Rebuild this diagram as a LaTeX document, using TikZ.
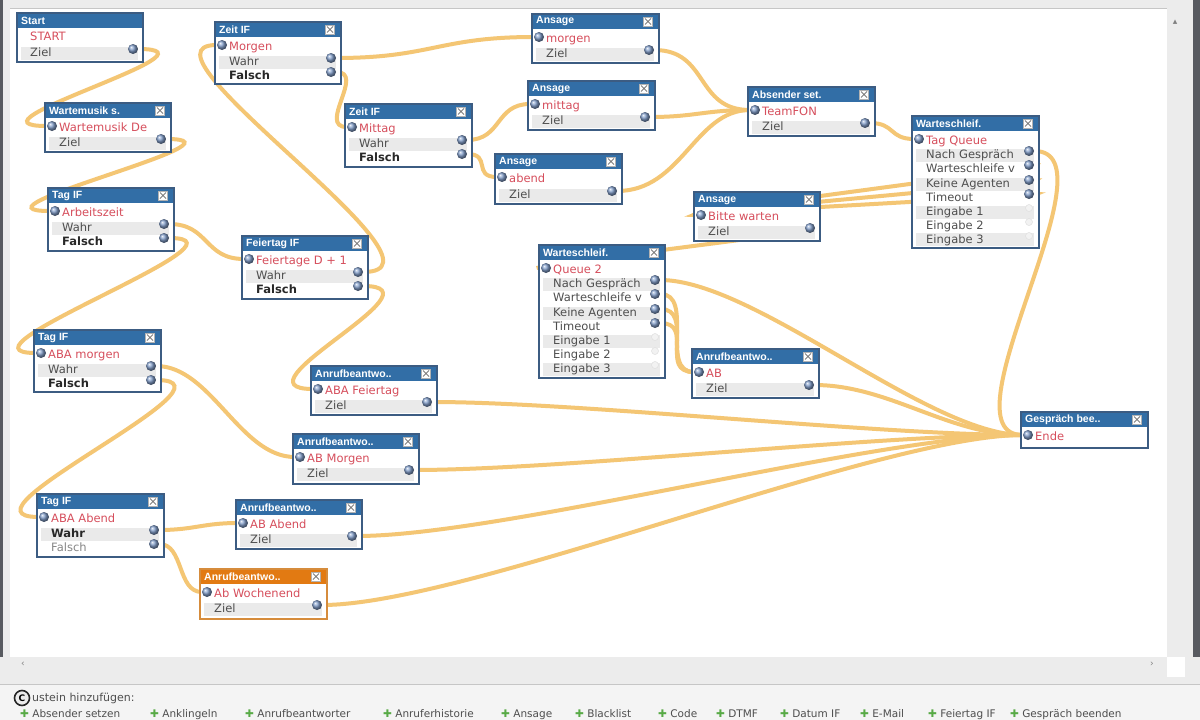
\documentclass[tikz,border=0pt]{standalone}
\usepackage{fontspec}
\setmainfont{DejaVu Sans}
\newfontfamily\hdfont{Liberation Sans}
\usetikzlibrary{calc}
\pgfdeclarelayer{bglayer}
\pgfdeclarelayer{wires}
\pgfsetlayers{bglayer,wires,main}
\definecolor{hdblue}{RGB}{50,110,166}
\definecolor{bdblue}{RGB}{60,92,130}
\definecolor{hdorange}{RGB}{226,122,18}
\definecolor{bdorange}{RGB}{214,140,60}
\definecolor{wirec}{RGB}{244,198,116}
\definecolor{rowg}{RGB}{234,234,234}
\definecolor{txtred}{RGB}{214,78,92}
\definecolor{txtg}{RGB}{78,78,78}
\definecolor{txtb}{RGB}{40,40,40}
\definecolor{txtl}{RGB}{135,135,135}
\definecolor{portc}{RGB}{128,156,200}
\definecolor{chrome}{RGB}{236,236,236}
\definecolor{chrometwo}{RGB}{244,244,244}
\definecolor{darkstrip}{RGB}{88,90,96}
\definecolor{plusg}{RGB}{88,170,70}
\tikzset{
 body/.style={rectangle, anchor=north west, fill=white, inner sep=0pt, line width=1.4pt},
 head/.style={rectangle, anchor=north west, inner sep=0pt, minimum height=15pt},
 hdtxt/.style={anchor=west, inner sep=0pt, text=white, font=\hdfont\bfseries\fontsize{10.5}{12}\selectfont},
 closebox/.style={rectangle, draw=gray!60, fill=white, minimum size=9pt, inner sep=0pt, line width=0.6pt,
   path picture={\draw[gray, line width=0.8pt]
     ([shift={(1.5pt,1.5pt)}]path picture bounding box.south west) -- ([shift={(-1.5pt,-1.5pt)}]path picture bounding box.north east)
     ([shift={(1.5pt,-1.5pt)}]path picture bounding box.north west) -- ([shift={(-1.5pt,1.5pt)}]path picture bounding box.south east);}},
 rowtxt/.style={anchor=west, inner sep=0pt, text=txtg, font=\fontsize{11.5}{13}\selectfont, text height=8.5pt, text depth=2.5pt},
 rowred/.style={rowtxt, text=txtred},
 rowbold/.style={rowtxt, text=txtb, font=\bfseries\fontsize{11.5}{13}\selectfont},
 rowlight/.style={rowtxt, text=txtl},
 port/.style={circle, inner sep=0pt, minimum size=10pt, shading=ball, ball color=portc},
 faintport/.style={circle, inner sep=0pt, minimum size=7pt, fill=gray!10, draw=gray!25, line width=0.5pt},
 wire/.style={draw=wirec, line width=4pt, line cap=round},
 tool/.style={anchor=base west, inner sep=0pt, text=txtg, font=\fontsize{10.5}{12}\selectfont},
 chromearrow/.style={inner sep=0pt, text=gray, font=\fontsize{9}{9}\selectfont},
}
% name, x, y, w, h, title, header colour, border colour
\newcommand\blkbox[8]{%
 \node[body, draw=#8, minimum width=#4pt, minimum height=#5pt] (#1) at (#2,#3) {};
 \node[head, fill=#7, minimum width=#4pt] (#1-h) at (#2,#3) {};
 \draw[#8, line width=1.4pt] (#1.north west) rectangle (#1.south east);
 \node[hdtxt] (#1-t) at (#2+4,#3+7.5) {#6};
 \node[closebox] (#1-x) at (#2+#4-10,#3+7.5) {};
}
\newcommand\rowbg[3]{\fill[rowg] (#1,#2-6.5) rectangle (#3,#2+6.5);}
\newcommand\rowtx[5]{\node[#4] (#1) at (#2,#3) {#5};}

\begin{document}
\begin{tikzpicture}[x=1pt,y=-1pt]
\useasboundingbox (0,0) rectangle (1200,720);

\begin{pgfonlayer}{bglayer}
 \fill[white] (0,0) rectangle (1200,720);
 \fill[chrome] (0,0) rectangle (1200,8);
 \draw[gray!45, line width=1pt] (0,8) -- (1200,8);
 \fill[chrome] (0,0) rectangle (10,720);
 \fill[darkstrip] (0,0) rectangle (3,720);
 \fill[chrome] (1167,8) rectangle (1200,657);
 \fill[darkstrip] (1193,0) rectangle (1200,657);
 \fill[chrome] (0,657) rectangle (1200,684);
 \fill[white] (1167,657) rectangle (1185,677);
 \draw[gray!45, line width=1pt] (0,684.5) -- (1200,684.5);
 \fill[chrometwo] (0,685) rectangle (1200,720);
\end{pgfonlayer}

% ---------- Start
\node[body, draw=bdblue, minimum width=125pt, minimum height=48pt] (s1) at (17,13) {};
\node[head, fill=hdblue, minimum width=125pt] (s1-h) at (17,13) {};
\draw[bdblue, line width=1.4pt] (s1.north west) rectangle (s1.south east);
\node[hdtxt] (s1-t) at (21,20.5) {Start};
\rowbg{21}{53}{138}
\rowtx{s1-r1}{30}{37}{rowred}{START}
\rowtx{s1-r2}{30}{53}{rowtxt}{Ziel}
\node[port] (s1o) at (133,49) {};

% ---------- Wartemusik
\blkbox{wm}{45}{103}{125}{48}{Wartemusik s.}{hdblue}{bdblue}
\rowbg{49}{143}{166}
\rowtx{wm-r1}{59}{128}{rowred}{Wartemusik De}
\rowtx{wm-r2}{59}{143}{rowtxt}{Ziel}
\node[port] (wmi) at (52,126) {};
\node[port] (wmo) at (161,139) {};

% ---------- Tag IF 1
\blkbox{t1}{48}{188}{125}{62}{Tag IF}{hdblue}{bdblue}
\rowbg{52}{228}{169}
\rowtx{t1-r1}{62}{213}{rowred}{Arbeitszeit}
\rowtx{t1-r2}{62}{228}{rowtxt}{Wahr}
\rowtx{t1-r3}{62}{242}{rowbold}{Falsch}
\node[port] (t1i) at (55,211) {};
\node[port] (t1a) at (164,224) {};
\node[port] (t1b) at (164,238) {};

% ---------- Zeit IF 1
\blkbox{z1}{215}{22}{125}{61}{Zeit IF}{hdblue}{bdblue}
\rowbg{219}{62}{336}
\rowtx{z1-r1}{229}{47}{rowred}{Morgen}
\rowtx{z1-r2}{229}{62}{rowtxt}{Wahr}
\rowtx{z1-r3}{229}{76}{rowbold}{Falsch}
\node[port] (z1i) at (222,45) {};
\node[port] (z1a) at (331,58) {};
\node[port] (z1b) at (331,72) {};

% ---------- Zeit IF 2
\blkbox{z2}{345}{104}{126}{62}{Zeit IF}{hdblue}{bdblue}
\rowbg{349}{144}{467}
\rowtx{z2-r1}{359}{129}{rowred}{Mittag}
\rowtx{z2-r2}{359}{144}{rowtxt}{Wahr}
\rowtx{z2-r3}{359}{158}{rowbold}{Falsch}
\node[port] (z2i) at (352,127) {};
\node[port] (z2a) at (462,140) {};
\node[port] (z2b) at (462,154) {};

% ---------- Ansage morgen
\blkbox{a1}{532}{14}{126}{48}{Ansage}{hdblue}{bdblue}
\rowbg{536}{54}{654}
\rowtx{a1-r1}{546}{39}{rowred}{morgen}
\rowtx{a1-r2}{546}{54}{rowtxt}{Ziel}
\node[port] (a1i) at (539,37) {};
\node[port] (a1o) at (649,50) {};

% ---------- Ansage mittag
\blkbox{a2}{528}{81}{126}{48}{Ansage}{hdblue}{bdblue}
\rowbg{532}{121}{650}
\rowtx{a2-r1}{542}{106}{rowred}{mittag}
\rowtx{a2-r2}{542}{121}{rowtxt}{Ziel}
\node[port] (a2i) at (535,104) {};
\node[port] (a2o) at (645,117) {};

% ---------- Ansage abend
\blkbox{a3}{495}{154}{126}{49}{Ansage}{hdblue}{bdblue}
\rowbg{499}{195}{617}
\rowtx{a3-r1}{509}{179}{rowred}{abend}
\rowtx{a3-r2}{509}{195}{rowtxt}{Ziel}
\node[port] (a3i) at (502,177) {};
\node[port] (a3o) at (612,191) {};

% ---------- Absender setzen
\blkbox{ab}{748}{87}{126}{48}{Absender set.}{hdblue}{bdblue}
\rowbg{752}{127}{870}
\rowtx{ab-r1}{762}{112}{rowred}{TeamFON}
\rowtx{ab-r2}{762}{127}{rowtxt}{Ziel}
\node[port] (abi) at (755,110) {};
\node[port] (abo) at (865,123) {};

% ---------- Warteschleife 1
\blkbox{q1}{912}{116}{126}{131}{Warteschleif.}{hdblue}{bdblue}
\rowbg{916}{155}{1034}
\rowbg{916}{184}{1034}
\rowbg{916}{212}{1034}
\rowbg{916}{239.5}{1034}
\rowtx{q1-r1}{926}{141}{rowred}{Tag Queue}
\rowtx{q1-r2}{926}{155}{rowtxt}{Nach Gespräch}
\rowtx{q1-r3}{926}{169}{rowtxt}{Warteschleife v}
\rowtx{q1-r4}{926}{184}{rowtxt}{Keine Agenten}
\rowtx{q1-r5}{926}{198}{rowtxt}{Timeout}
\rowtx{q1-r6}{926}{212}{rowtxt}{Eingabe 1}
\rowtx{q1-r7}{926}{226}{rowtxt}{Eingabe 2}
\rowtx{q1-r8}{926}{240}{rowtxt}{Eingabe 3}
\node[port] (q1i) at (919,139) {};
\node[port] (q1a) at (1029,151) {};
\node[port] (q1b) at (1029,165) {};
\node[port] (q1c) at (1029,180) {};
\node[port] (q1d) at (1029,194) {};
\node[faintport] (q1e) at (1029,208) {};
\node[faintport] (q1f) at (1029,222) {};
\node[faintport] (q1g) at (1029,236) {};

% ---------- Ansage Bitte warten
\blkbox{a4}{694}{192}{125}{48}{Ansage}{hdblue}{bdblue}
\rowbg{698}{232}{815}
\rowtx{a4-r1}{708}{217}{rowred}{Bitte warten}
\rowtx{a4-r2}{708}{232}{rowtxt}{Ziel}
\node[port] (a4i) at (701,215) {};
\node[port] (a4o) at (810,228) {};

% ---------- Feiertag IF
\blkbox{fe}{242}{236}{125}{62}{Feiertag IF}{hdblue}{bdblue}
\rowbg{246}{276}{363}
\rowtx{fe-r1}{256}{261}{rowred}{Feiertage D + 1}
\rowtx{fe-r2}{256}{276}{rowtxt}{Wahr}
\rowtx{fe-r3}{256}{290}{rowbold}{Falsch}
\node[port] (fei) at (249,259) {};
\node[port] (fa) at (358,272) {};
\node[port] (fb) at (358,286) {};

% ---------- Warteschleife 2
\blkbox{q2}{539}{245}{125}{132}{Warteschleif.}{hdblue}{bdblue}
\rowbg{543}{284}{660}
\rowbg{543}{313}{660}
\rowbg{543}{341}{660}
\rowbg{543}{369}{660}
\rowtx{q2-r1}{553}{270}{rowred}{Queue 2}
\rowtx{q2-r2}{553}{284}{rowtxt}{Nach Gespräch}
\rowtx{q2-r3}{553}{298}{rowtxt}{Warteschleife v}
\rowtx{q2-r4}{553}{313}{rowtxt}{Keine Agenten}
\rowtx{q2-r5}{553}{327}{rowtxt}{Timeout}
\rowtx{q2-r6}{553}{341}{rowtxt}{Eingabe 1}
\rowtx{q2-r7}{553}{355}{rowtxt}{Eingabe 2}
\rowtx{q2-r8}{553}{369}{rowtxt}{Eingabe 3}
\node[port] (q2i) at (546,268) {};
\node[port] (q2a) at (655,280) {};
\node[port] (q2b) at (655,294) {};
\node[port] (q2c) at (655,309) {};
\node[port] (q2d) at (655,323) {};
\node[faintport] (q2e) at (655,337) {};
\node[faintport] (q2f) at (655,351) {};
\node[faintport] (q2g) at (655,365) {};

% ---------- Tag IF 2
\blkbox{t2}{34}{330}{126}{61}{Tag IF}{hdblue}{bdblue}
\rowbg{38}{370}{156}
\rowtx{t2-r1}{48}{355}{rowred}{ABA morgen}
\rowtx{t2-r2}{48}{370}{rowtxt}{Wahr}
\rowtx{t2-r3}{48}{384}{rowbold}{Falsch}
\node[port] (t2i) at (41,353) {};
\node[port] (t2a) at (151,366) {};
\node[port] (t2b) at (151,380) {};

% ---------- Anrufbeantworter ABA Feiertag
\blkbox{b1}{311}{366}{125}{48}{Anrufbeantwo..}{hdblue}{bdblue}
\rowbg{315}{406}{432}
\rowtx{b1-r1}{325}{391}{rowred}{ABA Feiertag}
\rowtx{b1-r2}{325}{406}{rowtxt}{Ziel}
\node[port] (b1i) at (318,389) {};
\node[port] (b1o) at (427,402) {};

% ---------- Anrufbeantworter AB
\blkbox{b2}{692}{349}{126}{48}{Anrufbeantwo..}{hdblue}{bdblue}
\rowbg{696}{389}{814}
\rowtx{b2-r1}{706}{374}{rowred}{AB}
\rowtx{b2-r2}{706}{389}{rowtxt}{Ziel}
\node[port] (b2i) at (699,372) {};
\node[port] (b2o) at (809,385) {};

% ---------- Anrufbeantworter AB Morgen
\blkbox{b3}{293}{434}{125}{49}{Anrufbeantwo..}{hdblue}{bdblue}
\rowbg{297}{474}{414}
\rowtx{b3-r1}{307}{459}{rowred}{AB Morgen}
\rowtx{b3-r2}{307}{474}{rowtxt}{Ziel}
\node[port] (b3i) at (300,457) {};
\node[port] (b3o) at (409,470) {};

% ---------- Gespräch beenden
\blkbox{en}{1021}{412}{126}{35}{Gespräch bee..}{hdblue}{bdblue}
\rowtx{en-r1}{1035}{437}{rowred}{Ende}
\node[port] (ei) at (1028,435) {};

% ---------- Tag IF 3
\blkbox{t3}{37}{494}{126}{62}{Tag IF}{hdblue}{bdblue}
\rowbg{41}{534}{159}
\rowtx{t3-r1}{51}{519}{rowred}{ABA Abend}
\rowtx{t3-r2}{51}{534}{rowbold}{Wahr}
\rowtx{t3-r3}{51}{548}{rowlight}{Falsch}
\node[port] (t3i) at (44,517) {};
\node[port] (t3a) at (154,530) {};
\node[port] (t3b) at (154,544) {};

% ---------- Anrufbeantworter AB Abend
\blkbox{b4}{236}{500}{125}{48}{Anrufbeantwo..}{hdblue}{bdblue}
\rowbg{240}{540}{357}
\rowtx{b4-r1}{250}{525}{rowred}{AB Abend}
\rowtx{b4-r2}{250}{540}{rowtxt}{Ziel}
\node[port] (b4i) at (243,523) {};
\node[port] (b4o) at (352,536) {};

% ---------- Anrufbeantworter Ab Wochenend (selected)
\blkbox{b5}{200}{569}{126}{49}{Anrufbeantwo..}{hdorange}{bdorange}
\rowbg{204}{609}{322}
\rowtx{b5-r1}{214}{594}{rowred}{Ab Wochenend}
\rowtx{b5-r2}{214}{609}{rowtxt}{Ziel}
\node[port] (b5i) at (207,592) {};
\node[port] (b5o) at (317,605) {};

% ---------- wires
\begin{pgfonlayer}{wires}
 \draw[wire] (s1o) .. controls +(100,0) and +(-100,0) .. (wmi);
 \draw[wire] (wmo) .. controls +(100,0) and +(-100,0) .. (t1i);
 \draw[wire] (t1a) .. controls +(45,0) and +(-45,0) .. (fei);
 \draw[wire] (t1b) .. controls +(100,0) and +(-100,0) .. (t2i);
 \draw[wire] (fa) .. controls +(110,0) and +(-100,0) .. (z1i);
 \draw[wire] (fb) .. controls +(90,0) and +(-90,0) .. (b1i);
 \draw[wire] (z1a) .. controls +(100,0) and +(-100,0) .. (a1i);
 \draw[wire] (z1b) .. controls +(35,0) and +(-35,0) .. (z2i);
 \draw[wire] (z2a) .. controls +(40,0) and +(-40,0) .. (a2i);
 \draw[wire] (z2b) .. controls +(30,0) and +(-30,0) .. (a3i);
 \draw[wire] (a1o) .. controls +(60,0) and +(-60,0) .. (abi);
 \draw[wire] (a2o) .. controls +(50,0) and +(-50,0) .. (abi);
 \draw[wire] (a3o) .. controls +(70,0) and +(-60,0) .. (abi);
 \draw[wire] (abo) .. controls +(30,0) and +(-30,0) .. (q1i);
 \draw[wire] (q1a) .. controls +(90,0) and +(-90,0) .. (ei);
 \draw[wire] (q1b) .. controls +(40,0) and +(-40,0) .. (a4i);
 \draw[wire] (q1c) .. controls +(40,0) and +(-40,0) .. (a4i);
 \draw[wire] (q1d) .. controls +(40,0) and +(-40,0) .. (a4i);
 \draw[wire] (a4o) .. controls +(40,0) and +(-40,0) .. (q2i);
 \draw[wire] (q2a) .. controls +(100,0) and +(-100,0) .. (ei);
 \draw[wire] (q2b) .. controls +(40,0) and +(-40,0) .. (b2i);
 \draw[wire] (q2c) .. controls +(40,0) and +(-40,0) .. (b2i);
 \draw[wire] (q2d) .. controls +(40,0) and +(-40,0) .. (b2i);
 \draw[wire] (b2o) .. controls +(80,0) and +(-80,0) .. (ei);
 \draw[wire] (b1o) .. controls +(150,0) and +(-150,0) .. (ei);
 \draw[wire] (b3o) .. controls +(150,0) and +(-150,0) .. (ei);
 \draw[wire] (b4o) .. controls +(150,0) and +(-150,0) .. (ei);
 \draw[wire] (b5o) .. controls +(150,0) and +(-150,0) .. (ei);
 \draw[wire] (t2a) .. controls +(60,0) and +(-60,0) .. (b3i);
 \draw[wire] (t2b) .. controls +(100,0) and +(-100,0) .. (t3i);
 \draw[wire] (t3a) .. controls +(40,0) and +(-40,0) .. (b4i);
 \draw[wire] (t3b) .. controls +(30,0) and +(-30,0) .. (b5i);
\end{pgfonlayer}

% ---------- window chrome labels
\node[chromearrow] (scrup) at (1175,22) {▴};
\node[chromearrow] (scrl) at (23,664) {‹};
\node[chromearrow] (scrr) at (1152,664) {›};
\node[circle, draw=black!85, line width=1.6pt, fill=gray!15, inner sep=0pt, minimum size=15pt,
      font=\bfseries\fontsize{9}{9}\selectfont] (cicon) at (22,698) {C};
\node[anchor=west, inner sep=0pt, text=txtg, font=\fontsize{11}{12}\selectfont] (addlbl) at (32,698.5) {ustein hinzufügen:};
\node[tool] (tb1) at (20,717) {\textcolor{plusg}{✚} Absender setzen};
\node[tool] (tb2) at (150,717) {\textcolor{plusg}{✚} Anklingeln};
\node[tool] (tb3) at (245,717) {\textcolor{plusg}{✚} Anrufbeantworter};
\node[tool] (tb4) at (383,717) {\textcolor{plusg}{✚} Anruferhistorie};
\node[tool] (tb5) at (501,717) {\textcolor{plusg}{✚} Ansage};
\node[tool] (tb6) at (575,717) {\textcolor{plusg}{✚} Blacklist};
\node[tool] (tb7) at (658,717) {\textcolor{plusg}{✚} Code};
\node[tool] (tb8) at (716,717) {\textcolor{plusg}{✚} DTMF};
\node[tool] (tb9) at (780,717) {\textcolor{plusg}{✚} Datum IF};
\node[tool] (tb10) at (860,717) {\textcolor{plusg}{✚} E-Mail};
\node[tool] (tb11) at (928,717) {\textcolor{plusg}{✚} Feiertag IF};
\node[tool] (tb12) at (1010,717) {\textcolor{plusg}{✚} Gespräch beenden};
\end{tikzpicture}
\end{document}
